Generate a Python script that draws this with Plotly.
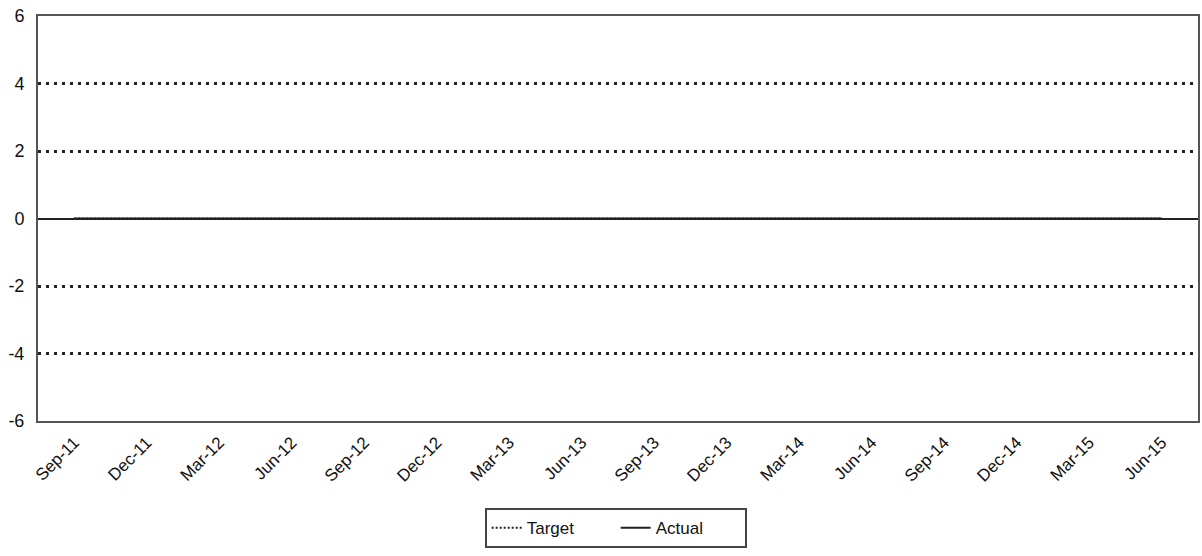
import plotly.graph_objects as go

quarters = ["Sep-11", "Dec-11", "Mar-12", "Jun-12", "Sep-12", "Dec-12", "Mar-13", "Jun-13",
            "Sep-13", "Dec-13", "Mar-14", "Jun-14", "Sep-14", "Dec-14", "Mar-15", "Jun-15"]
target = [0, 0, 0, 0, 0, 0, 0, 0, 0, 0, 0, 0, 0, 0, 0, 0]
actual = [0, 0, 0, 0, 0, 0, 0, 0, 0, 0, 0, 0, 0, 0, 0, 0]
y_ticks = [-6, -4, -2, 0, 2, 4, 6]
y_labels = ["-6", "-4", "-2", "0", "2", "4", "6"]

fig = go.Figure()
fig.add_trace(go.Scatter(x=quarters, y=target, name="Target", mode="lines",
                         line=dict(color="#222", width=2, dash="2px,2px")))
fig.add_trace(go.Scatter(x=quarters, y=actual, name="Actual", mode="lines",
                         line=dict(color="#222", width=2)))

fig.update_layout(
    width=1202, height=556,
    margin=dict(l=38, r=2, t=16, b=135),
    paper_bgcolor="white", plot_bgcolor="white",
    font=dict(family="Liberation Sans, Arial, sans-serif", size=17, color="#111"),
    showlegend=True,
    legend=dict(orientation="h", x=0.498, xanchor="center", y=-0.215, yanchor="top",
                bordercolor="#444", borderwidth=2, font=dict(size=17),
                entrywidth=84, entrywidthmode="pixels", tracegroupgap=0),
)
fig.update_xaxes(type="category", tickangle=-45, showgrid=False, showline=True,
                 linecolor="#555", linewidth=2, mirror=True, ticks="", range=[-0.5, 15.5],
                 tickfont=dict(size=17), ticklabelstandoff=3)
fig.update_yaxes(range=[-6, 6], tickvals=y_ticks, ticktext=y_labels, showgrid=True,
                 gridcolor="#222", griddash="2.5px,5.5px", gridwidth=2.5,
                 zeroline=True, zerolinecolor="#222", zerolinewidth=2,
                 showline=True, linecolor="#555", linewidth=2, mirror=True, ticks="",
                 tickfont=dict(size=18), ticklabelstandoff=8)

fig.write_html("out.html")
